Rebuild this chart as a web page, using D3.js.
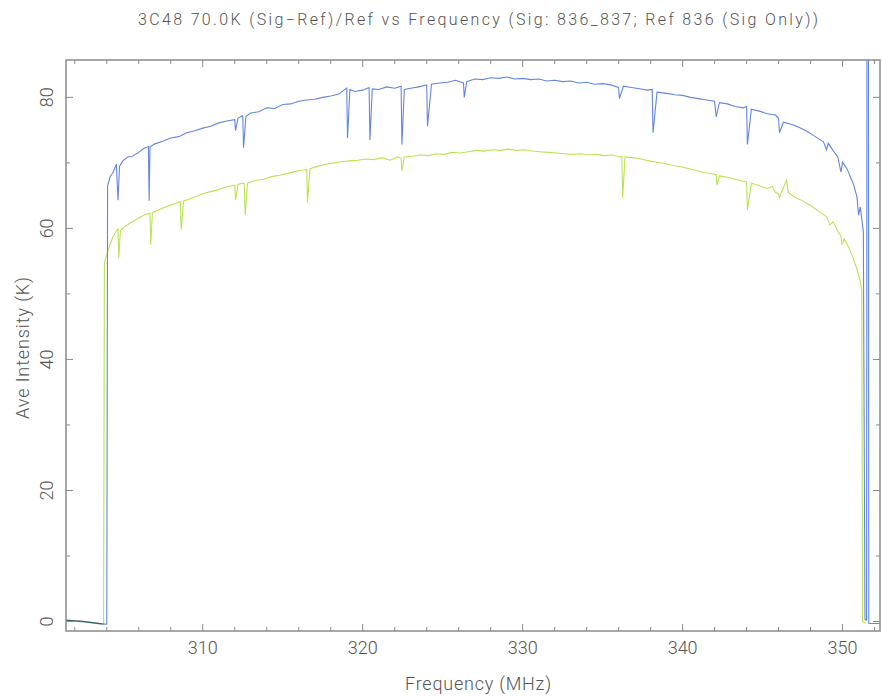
<!DOCTYPE html>
<html lang="en">
<head>
<meta charset="utf-8">
<style type="text/css">
    body { margin: 0; background: #fff; }
    text { font-family: Roboto, "Liberation Sans", sans-serif; font-weight: 300; fill: #555; }
    .frame { fill: none; stroke: #8a8a8a; stroke-width: 1.5px; }
    .tick { stroke: #8a8a8a; stroke-width: 1px; }
</style>
</head>
<body>
<svg width="882" height="697"></svg>
<script src="https://cdn.jsdelivr.net/npm/d3@7"></script>
<script type="text/javascript">
    // spectrum values: [frequency MHz, intensity K]
    var baseline = [[301.45, 0.2], [302.5, 0.0], [303.5, -0.3], [303.8, -0.4]];
    var blue = [
        [303.8, -0.4], [304.0, -0.4], [304.05, 66.5], [304.2, 67.8], [304.4, 68.6], [304.6, 69.8], [304.7, 64.3],
        [304.8, 69.5], [305.0, 70.3], [305.3, 70.9], [305.6, 71.0], [306.0, 71.6], [306.3, 72.2], [306.6, 72.5],
        [306.65, 64.2], [306.7, 72.4], [307.0, 72.9], [307.5, 73.3], [308.0, 73.8], [308.5, 74.0], [309.0, 74.6],
        [309.5, 74.9], [310.0, 75.3], [310.5, 75.6], [311.0, 76.1], [311.5, 76.4], [312.0, 76.6], [312.05, 74.9],
        [312.2, 76.8], [312.5, 77.2], [312.55, 72.3], [312.7, 77.1], [313.0, 77.6], [313.5, 77.8], [314.0, 78.4],
        [314.5, 78.3], [315.0, 78.9], [315.5, 79.0], [316.0, 79.4], [316.5, 79.6], [317.0, 79.7], [317.5, 80.0],
        [318.0, 80.2], [318.5, 80.5], [319.0, 81.4], [319.05, 73.8], [319.2, 81.2], [319.5, 80.9], [320.0, 81.1],
        [320.4, 81.5], [320.45, 73.5], [320.6, 81.3], [321.0, 81.2], [321.5, 81.6], [322.0, 81.4], [322.4, 81.7],
        [322.45, 72.8], [322.6, 81.2], [323.0, 81.4], [323.5, 81.6], [324.0, 81.9], [324.05, 75.6], [324.3, 82.0],
        [324.8, 82.2], [325.3, 82.3], [325.8, 82.6], [326.3, 82.2], [326.35, 80.0], [326.5, 82.4], [327.0, 82.8],
        [327.5, 82.7], [328.0, 83.0], [328.5, 82.9], [329.0, 83.1], [329.5, 82.8], [330.0, 82.9], [330.5, 82.7],
        [331.0, 82.8], [331.5, 82.5], [332.0, 82.6], [332.5, 82.4], [333.0, 82.5], [333.5, 82.2], [334.0, 82.3],
        [334.5, 82.0], [335.0, 82.1], [335.5, 81.9], [336.0, 81.5], [336.05, 79.8], [336.3, 81.7], [336.8, 81.5],
        [337.3, 81.3], [337.8, 81.1], [338.1, 81.2], [338.15, 74.6], [338.4, 80.8], [339.0, 80.6], [339.5, 80.4],
        [340.0, 80.3], [340.5, 80.0], [341.0, 79.8], [341.5, 79.6], [342.0, 79.4], [342.1, 77.0], [342.3, 79.2],
        [342.8, 79.0], [343.3, 78.6], [343.8, 78.4], [344.0, 78.6], [344.05, 72.8], [344.3, 78.2], [344.8, 77.9],
        [345.3, 77.5], [345.8, 77.3], [346.0, 76.8], [346.05, 74.6], [346.3, 76.2], [346.8, 75.9], [347.3, 75.4],
        [347.8, 74.8], [348.3, 74.0], [348.8, 73.2], [349.0, 72.0], [349.1, 73.0], [349.4, 71.9], [349.7, 70.9],
        [349.9, 68.6], [350.0, 70.1], [350.3, 69.0], [350.5, 67.8], [350.7, 66.6], [350.9, 64.8], [351.0, 62.0],
        [351.1, 63.3], [351.2, 61.5], [351.3, 59.5], [351.4, 0.3], [351.5, 0.2], [351.54, 150], [351.6, 150],
        [351.64, -0.3], [352.34, -0.3]
    ];
    var green = [
        [303.8, -0.4], [303.85, 54.8], [304.0, 56.0], [304.2, 57.5], [304.4, 58.8], [304.6, 59.6], [304.7, 59.9],
        [304.75, 55.5], [304.85, 59.7], [305.2, 60.4], [305.6, 61.0], [306.0, 61.6], [306.4, 62.1], [306.7, 62.3],
        [306.75, 57.5], [306.85, 62.4], [307.3, 62.9], [307.8, 63.4], [308.3, 63.8], [308.6, 64.1], [308.65, 59.8],
        [308.8, 64.2], [309.3, 64.6], [309.8, 65.1], [310.3, 65.5], [310.8, 65.8], [311.3, 66.2], [311.8, 66.5],
        [312.0, 66.6], [312.05, 64.3], [312.2, 66.7], [312.5, 66.9], [312.6, 66.8], [312.65, 62.0], [312.8, 66.9],
        [313.3, 67.3], [313.8, 67.5], [314.3, 67.9], [314.8, 68.1], [315.3, 68.4], [315.8, 68.7], [316.3, 68.9],
        [316.5, 69.0], [316.55, 64.0], [316.7, 69.1], [317.2, 69.5], [317.7, 69.8], [318.2, 70.0], [318.7, 70.2],
        [319.2, 70.3], [319.7, 70.4], [320.2, 70.6], [320.7, 70.5], [321.2, 70.8], [321.7, 70.4], [322.2, 70.9],
        [322.4, 70.7], [322.45, 68.8], [322.6, 70.9], [323.1, 71.0], [323.6, 71.2], [324.1, 71.1], [324.6, 71.4],
        [325.1, 71.3], [325.6, 71.6], [326.1, 71.5], [326.6, 71.7], [327.1, 71.9], [327.6, 71.8], [328.1, 72.0],
        [328.6, 71.9], [329.1, 72.1], [329.6, 71.9], [330.1, 72.0], [330.6, 71.8], [331.1, 71.7], [331.6, 71.6],
        [332.1, 71.5], [332.6, 71.4], [333.1, 71.3], [333.6, 71.4], [334.1, 71.2], [334.6, 71.3], [335.1, 71.1],
        [335.6, 71.2], [336.1, 70.9], [336.2, 71.0], [336.25, 64.6], [336.4, 70.9], [336.9, 70.8], [337.4, 70.6],
        [337.9, 70.3], [338.4, 70.1], [338.9, 69.9], [339.4, 69.6], [339.9, 69.4], [340.4, 69.1], [340.9, 68.8],
        [341.4, 68.5], [341.9, 68.3], [342.1, 68.2], [342.15, 66.6], [342.3, 68.0], [342.8, 67.8], [343.3, 67.5],
        [343.8, 67.2], [344.0, 67.1], [344.05, 62.8], [344.3, 66.9], [344.8, 66.5], [345.3, 66.1], [345.6, 66.4],
        [345.8, 65.5], [346.0, 65.3], [346.05, 64.7], [346.2, 65.6], [346.5, 67.4], [346.6, 65.5], [347.0, 64.8],
        [347.5, 64.2], [348.0, 63.5], [348.5, 62.6], [349.0, 61.8], [349.2, 60.5], [349.4, 61.0], [349.7, 59.6],
        [349.9, 58.8], [349.95, 57.5], [350.1, 58.4], [350.4, 57.0], [350.7, 55.2], [350.9, 53.8], [351.1, 52.0],
        [351.2, 50.5], [351.25, 0.0], [351.5, -0.2]
    ];
    var xTicks = [310, 320, 330, 340, 350];
    var yTicks = [0, 20, 40, 60, 80];

    var svg = d3.select("svg"),
        plotL = 66, plotR = 880, plotT = 60, plotB = 631;

    var x = d3.scaleLinear().domain([301.45, 352.34]).range([plotL, plotR]);
    var y = d3.scaleLinear().domain([-1.45, 85.7]).range([plotB, plotT]);

    svg.append("defs").append("clipPath").attr("id", "plot")
        .append("rect").attr("x", plotL).attr("y", plotT)
        .attr("width", plotR - plotL).attr("height", plotB - plotT);

    var line = d3.line()
        .x(function (d) { return x(d[0]); })
        .y(function (d) { return y(d[1]); });

    var plot = svg.append("g").attr("clip-path", "url(#plot)");

    plot.append("path").datum(green)
        .attr("d", line)
        .attr("fill", "none")
        .attr("stroke", "#bde255")
        .attr("stroke-width", 1.1);

    plot.append("path").datum(blue)
        .attr("d", line)
        .attr("fill", "none")
        .attr("stroke", "#6486e2")
        .attr("stroke-width", 1.1);

    plot.append("path").datum(baseline)
        .attr("d", line)
        .attr("fill", "none")
        .attr("stroke", "#3b6468")
        .attr("stroke-width", 1.4);

    // frame
    svg.append("rect").attr("class", "frame")
        .attr("x", plotL).attr("y", plotT)
        .attr("width", plotR - plotL).attr("height", plotB - plotT);

    // inward ticks on all four sides
    var xMinor = d3.range(302, 353, 2);
    xMinor.forEach(function (v) {
        var len = v % 10 === 0 ? 7 : 4;
        svg.append("line").attr("class", "tick")
            .attr("x1", x(v)).attr("x2", x(v)).attr("y1", plotB).attr("y2", plotB - len);
        svg.append("line").attr("class", "tick")
            .attr("x1", x(v)).attr("x2", x(v)).attr("y1", plotT).attr("y2", plotT + len);
    });
    var yMinor = d3.range(0, 86, 10);
    yMinor.forEach(function (v) {
        var len = v % 20 === 0 ? 7 : 4;
        svg.append("line").attr("class", "tick")
            .attr("y1", y(v)).attr("y2", y(v)).attr("x1", plotL).attr("x2", plotL + len);
        svg.append("line").attr("class", "tick")
            .attr("y1", y(v)).attr("y2", y(v)).attr("x1", plotR).attr("x2", plotR - len);
    });

    svg.selectAll(".xlab").data(xTicks).enter().append("text")
        .attr("x", function (d) { return x(d); })
        .attr("y", 654)
        .attr("text-anchor", "middle")
        .attr("font-size", 18)
        .text(function (d) { return d; });

    svg.selectAll(".ylab").data(yTicks).enter().append("text")
        .attr("transform", function (d) { return "translate(53," + y(d) + ") rotate(-90)"; })
        .attr("text-anchor", "middle")
        .attr("font-size", 18)
        .text(function (d) { return d; });

    svg.append("text")
        .attr("x", 478).attr("y", 25)
        .attr("text-anchor", "middle")
        .attr("font-size", 16)
        .attr("textLength", 680)
        .text("3C48 70.0K (Sig\u2212Ref)/Ref vs Frequency (Sig: 836_837; Ref 836 (Sig Only))");

    svg.append("text")
        .attr("x", 478).attr("y", 690)
        .attr("text-anchor", "middle")
        .attr("font-size", 18)
        .attr("textLength", 146)
        .text("Frequency (MHz)");

    svg.append("text")
        .attr("transform", "translate(29,348) rotate(-90)")
        .attr("text-anchor", "middle")
        .attr("font-size", 18)
        .attr("textLength", 142)
        .text("Ave Intensity (K)");
</script>
</body>
</html>
